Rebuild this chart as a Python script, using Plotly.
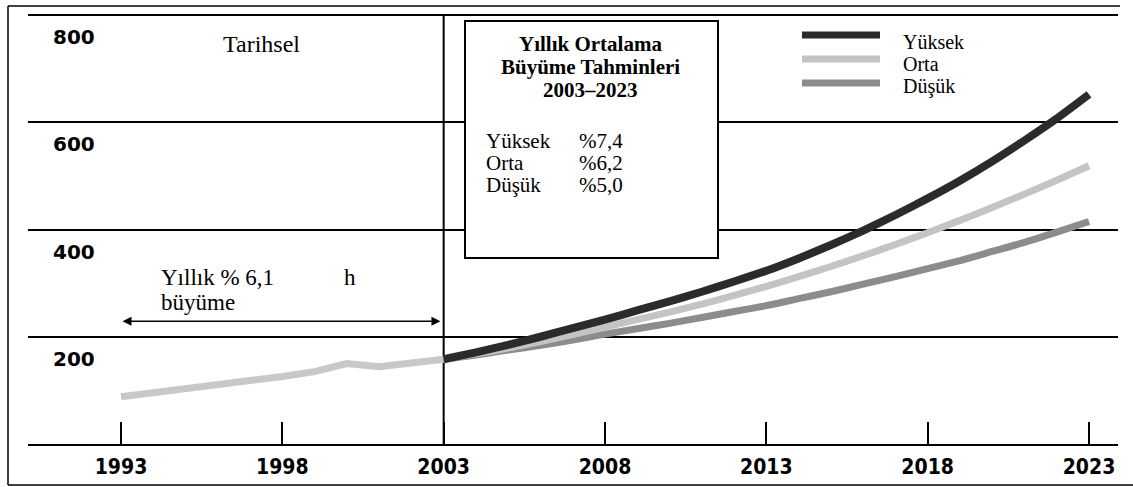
import plotly.graph_objects as go

# ---- data ----
hist_years = list(range(1993, 2004))
hist_values = [88, 95, 103, 110, 118, 126, 135, 150, 144, 150, 158]

fc_years = list(range(2003, 2024))
high_values = [158, 171, 185, 200, 216, 232, 249, 266, 284, 303, 323, 346, 371, 398, 427, 458, 491, 527, 566, 607, 652]
mid_values = [158, 168, 179, 191, 204, 218, 232, 246, 261, 277, 294, 312, 331, 351, 372, 394, 417, 441, 466, 492, 519]
low_values = [158, 166, 175, 184, 194, 205, 215, 225, 236, 247, 258, 271, 284, 298, 312, 327, 342, 359, 376, 395, 415]

x_ticks = [1993, 1998, 2003, 2008, 2013, 2018, 2023]
y_ticks = [200, 400, 600, 800]
y_ticktext = ["200", "400", "600", "800"]

series_names = ["Yüksek", "Orta", "Düşük"]
series_rates = ["%7,4", "%6,2", "%5,0"]
colors = {"Yüksek": "#2b2b2b", "Orta": "#c4c4c4", "Düşük": "#8c8c8c", "hist": "#c8c8c8"}

# ---- layout geometry (pixels) ----
W, H = 1133, 487
ML, MR, MT, MB = 28, 15, 6, 43
PW, PH = W - ML - MR, H - MT - MB


def px(xp):
    return (xp - ML) / PW


def py(yp):
    return (H - MB - yp) / PH


serif = "Liberation Serif, Times New Roman, serif"

fig = go.Figure()
fig.add_trace(go.Scatter(x=hist_years, y=hist_values, mode="lines",
                         line=dict(color=colors["hist"], width=7), showlegend=False))
for name, vals, w in [("Düşük", low_values, 7), ("Orta", mid_values, 7), ("Yüksek", high_values, 8)]:
    fig.add_trace(go.Scatter(x=fc_years, y=vals, mode="lines", name=name,
                             line=dict(color=colors[name], width=w, shape="spline", smoothing=0.6),
                             showlegend=False))

shapes = []
# frame lines
shapes.append(dict(type="line", xref="paper", yref="paper", x0=px(8), x1=px(8), y0=py(6), y1=py(485),
                   line=dict(color="black", width=1.5)))
shapes.append(dict(type="line", xref="paper", yref="paper", x0=px(8), x1=px(1120), y0=py(6), y1=py(6),
                   line=dict(color="black", width=1.5)))
shapes.append(dict(type="line", xref="paper", yref="paper", x0=px(8), x1=px(1133), y0=py(485), y1=py(485),
                   line=dict(color="black", width=1.5)))
# 2003 vertical divider
shapes.append(dict(type="line", xref="x", yref="y", x0=2003, x1=2003, y0=0, y1=800,
                   line=dict(color="black", width=2), layer="below"))
# forecast box
shapes.append(dict(type="rect", xref="paper", yref="paper", x0=px(465), x1=px(718), y0=py(258), y1=py(21),
                   line=dict(color="black", width=2), fillcolor="white", layer="above"))
# legend swatches
for i, name in enumerate(series_names):
    yy = py(35 + 24 * i)
    shapes.append(dict(type="line", xref="paper", yref="paper", x0=px(802), x1=px(880), y0=yy, y1=yy,
                       line=dict(color=colors[name], width=7)))

annotations = []
annotations.append(dict(xref="paper", yref="paper", x=px(261), y=py(44), text="Tarihsel", showarrow=False,
                        font=dict(family=serif, size=24, color="black"), xanchor="center", yanchor="middle"))
for i, t in enumerate(["Yıllık Ortalama", "Büyüme Tahminleri", "2003–2023"]):
    annotations.append(dict(xref="paper", yref="paper", x=px(591), y=py(44 + 23 * i), text="<b>%s</b>" % t,
                            showarrow=False, font=dict(family=serif, size=21, color="black"),
                            xanchor="center", yanchor="middle"))
for i, (n, r) in enumerate(zip(series_names, series_rates)):
    yy = py(141 + 22 * i)
    annotations.append(dict(xref="paper", yref="paper", x=px(484), y=yy, text=n, showarrow=False,
                            font=dict(family=serif, size=21, color="black"), xanchor="left", yanchor="middle"))
    annotations.append(dict(xref="paper", yref="paper", x=px(577), y=yy, text=r, showarrow=False,
                            font=dict(family=serif, size=21, color="black"), xanchor="left", yanchor="middle"))
    annotations.append(dict(xref="paper", yref="paper", x=px(901), y=py(42 + 22 * i), text=n, showarrow=False,
                            font=dict(family=serif, size=20, color="black"), xanchor="left", yanchor="middle"))
annotations.append(dict(xref="paper", yref="paper", x=px(159), y=py(277), text="Yıllık % 6,1", showarrow=False,
                        font=dict(family=serif, size=23, color="black"), xanchor="left", yanchor="middle"))
annotations.append(dict(xref="paper", yref="paper", x=px(159), y=py(302), text="büyüme", showarrow=False,
                        font=dict(family=serif, size=23, color="black"), xanchor="left", yanchor="middle"))
annotations.append(dict(xref="paper", yref="paper", x=px(350), y=py(277), text="h", showarrow=False,
                        font=dict(family=serif, size=23, color="black"), xanchor="center", yanchor="middle"))
# double-headed arrow for historical growth span
annotations.append(dict(xref="x", yref="y", axref="x", ayref="y", x=hist_years[-1] - 0.1, y=229,
                        ax=hist_years[0], ay=229, text="", showarrow=True, arrowside="end+start",
                        arrowhead=2, arrowsize=1.2, arrowwidth=1.5, arrowcolor="black"))

x_min = 1993 - (121 - ML) / 32.27
x_max = 2023 + (W - MR - 1089) / 32.27
y_max = 800 + (15 - MT) / ((H - MB - 15) / 800)

fig.update_layout(
    width=W, height=H, autosize=False,
    margin=dict(l=ML, r=MR, t=MT, b=MB),
    paper_bgcolor="white", plot_bgcolor="white",
    shapes=shapes, annotations=annotations,
    xaxis=dict(range=[x_min, x_max], tickvals=x_ticks, ticktext=[str(v) for v in x_ticks],
               ticks="inside", ticklen=22, tickwidth=2, tickcolor="black",
               showline=True, linecolor="black", linewidth=2, showgrid=False, zeroline=False,
               tickfont=dict(family="DejaVu Sans Condensed, DejaVu Sans", size=21, color="black", weight="bold"),
               ticklabelstandoff=3),
    yaxis=dict(range=[0, y_max], tickvals=y_ticks, ticktext=y_ticktext,
               showgrid=True, gridcolor="black", gridwidth=2, zeroline=False, showline=False,
               ticks="", ticklabelposition="inside", ticklabelshift=22, ticklabelstandoff=22,
               tickfont=dict(family="DejaVu Sans", size=20, color="black", weight="bold")),
)

fig.write_html("out.html", config={"responsive": False, "displayModeBar": False},
               post_script="document.body.style.margin='0px'; document.body.style.overflow='hidden';")
